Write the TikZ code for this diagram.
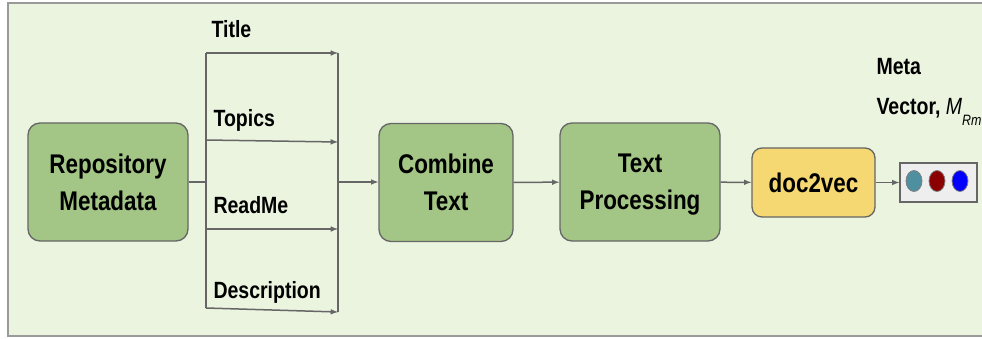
\documentclass[tikz,border=0pt]{standalone}
\usepackage{fontspec}
\setmainfont[FakeStretch=0.83]{Liberation Sans}
\usepackage{tikz}
\usetikzlibrary{arrows,shapes.geometric}
\definecolor{bgfill}{HTML}{EAF4DF}
\definecolor{framegray}{HTML}{9A9A9A}
\definecolor{boxfill}{HTML}{A3C585}
\definecolor{yellowfill}{HTML}{F5D872}
\definecolor{linegray}{HTML}{666666}
\definecolor{vecfill}{HTML}{EEEEEE}
\definecolor{dotteal}{HTML}{4E8FA0}
\definecolor{dotred}{HTML}{8B0000}
\definecolor{dotblue}{HTML}{0000FF}

\begin{document}
\begin{tikzpicture}[x=1pt, y=-1pt,
  greenbox/.style={draw=linegray, line width=1.3pt, rounded corners=12pt, fill=boxfill, minimum height=118pt, align=center, font=\bfseries\fontsize{27}{37}\selectfont},
  lbl/.style={anchor=base west, font=\bfseries\fontsize{23.5}{28}\selectfont},
  dot/.style={ellipse, draw=gray, line width=0.8pt, minimum width=16pt, minimum height=21pt, inner sep=0pt},
  conn/.style={draw=linegray, line width=1.5pt}]
\useasboundingbox (0,0) rectangle (982,339);
\draw[draw=framegray, line width=2pt, fill=bgfill] (8,3) rectangle (992,336);
\node[greenbox, minimum width=160pt] at (108,182) (n1) {Repository\\Metadata};
\node[greenbox, minimum width=134pt] at (446,182.5) (n2) {Combine\\Text};
\node[greenbox, minimum width=160pt] at (640,182) (n3) {Text\\\raisebox{0pt}[\height][0pt]{Processing}};
\node[draw=linegray, line width=1.3pt, rounded corners=10pt, fill=yellowfill, minimum width=123pt, minimum height=69pt, font=\bfseries\fontsize{27}{37}\selectfont] at (813.5,182.5) (n4) {doc2vec};
\node[draw=linegray, line width=1.3pt, fill=vecfill, minimum width=77pt, minimum height=39pt] at (938.5,182.5) (n5) {};
\node[dot, fill=dotteal] at (914,181) (d1) {};
\node[dot, fill=dotred] at (937,181) (d2) {};
\node[dot, fill=dotblue] at (960,181) (d3) {};
\node[lbl] at (208,38) (l1) {Title};
\node[lbl] at (210,127) (l2) {Topics};
\node[lbl] at (210,213) (l3) {ReadMe};
\node[lbl] at (210,298) (l4) {Description};
\node[lbl] at (873,75) (n6) {Meta};
\node[lbl] at (873,115) (n7) {Vector, {\mdseries\itshape M}\raisebox{-11pt}{\mdseries\itshape\fontsize{15}{15}\selectfont Rm}};
\coordinate (a1) at (206,53);
\coordinate (b1) at (338,53);
\coordinate (a2) at (206,140);
\coordinate (b2) at (338,142);
\coordinate (a3) at (206,229);
\coordinate (b3) at (338,229);
\coordinate (a4) at (206,308);
\coordinate (b4) at (338,312);
\coordinate (m) at (338,182);
\path[conn] (n1.east) -- (n1.east -| a1);
\path[conn] (a1) -- (a4);
\path[conn] (b1) -- (b4);
\path[conn, ->, >=latex] (a1) -- (b1);
\path[conn, ->, >=latex] (a2) -- (b2);
\path[conn, ->, >=latex] (a3) -- (b3);
\path[conn, ->, >=latex] (a4) -- (b4);
\path[conn, ->, >=latex] (m) -- (m -| n2.west);
\path[conn, ->, >=latex] (n2) -- (n3);
\path[conn, ->, >=latex] (n3) -- (n4);
\path[conn, ->, >=latex] (n4) -- (n5);
\end{tikzpicture}
\end{document}
